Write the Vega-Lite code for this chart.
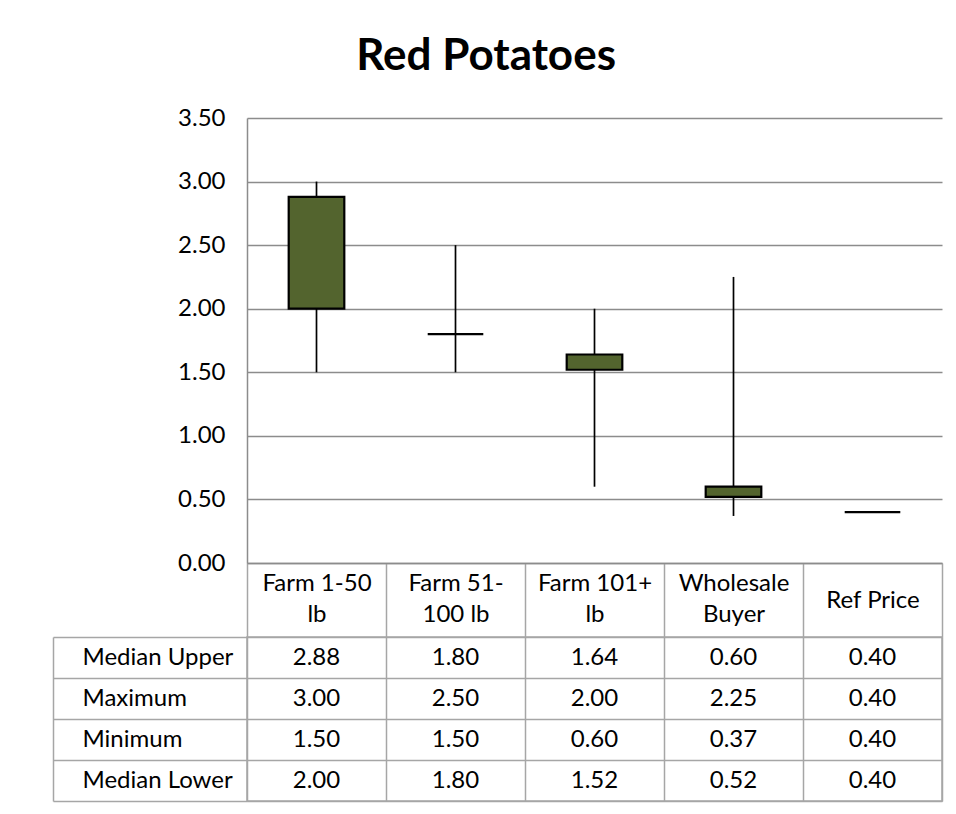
{
  "$schema": "https://vega.github.io/schema/vega-lite/v6.json",
  "padding": {"left": 51, "top": 35, "right": 14, "bottom": 8},
  "background": "white",
  "title": {"text": "Red Potatoes", "fontSize": 44, "fontWeight": "bold", "font": "Lato", "color": "black", "anchor": "middle", "dx": -11, "offset": 27},
  "config": {"font": "Lato", "view": {"stroke": null}},
  "datasets": {
    "boxes": [
      {"category": "Farm 1-50 lb", "upper": 2.88, "max": 3.00, "min": 1.50, "lower": 2.00},
      {"category": "Farm 51-100 lb", "upper": 1.80, "max": 2.50, "min": 1.50, "lower": 1.80},
      {"category": "Farm 101+ lb", "upper": 1.64, "max": 2.00, "min": 0.60, "lower": 1.52},
      {"category": "Wholesale Buyer", "upper": 0.60, "max": 2.25, "min": 0.37, "lower": 0.52},
      {"category": "Ref Price", "upper": 0.40, "max": 0.40, "min": 0.40, "lower": 0.40}
    ],
    "table": [
      {"category": "Farm 1-50 lb", "stat": "Median Upper", "value": 2.88},
      {"category": "Farm 51-100 lb", "stat": "Median Upper", "value": 1.80},
      {"category": "Farm 101+ lb", "stat": "Median Upper", "value": 1.64},
      {"category": "Wholesale Buyer", "stat": "Median Upper", "value": 0.60},
      {"category": "Ref Price", "stat": "Median Upper", "value": 0.40},
      {"category": "Farm 1-50 lb", "stat": "Maximum", "value": 3.00},
      {"category": "Farm 51-100 lb", "stat": "Maximum", "value": 2.50},
      {"category": "Farm 101+ lb", "stat": "Maximum", "value": 2.00},
      {"category": "Wholesale Buyer", "stat": "Maximum", "value": 2.25},
      {"category": "Ref Price", "stat": "Maximum", "value": 0.40},
      {"category": "Farm 1-50 lb", "stat": "Minimum", "value": 1.50},
      {"category": "Farm 51-100 lb", "stat": "Minimum", "value": 1.50},
      {"category": "Farm 101+ lb", "stat": "Minimum", "value": 0.60},
      {"category": "Wholesale Buyer", "stat": "Minimum", "value": 0.37},
      {"category": "Ref Price", "stat": "Minimum", "value": 0.40},
      {"category": "Farm 1-50 lb", "stat": "Median Lower", "value": 2.00},
      {"category": "Farm 51-100 lb", "stat": "Median Lower", "value": 1.80},
      {"category": "Farm 101+ lb", "stat": "Median Lower", "value": 1.52},
      {"category": "Wholesale Buyer", "stat": "Median Lower", "value": 0.52},
      {"category": "Ref Price", "stat": "Median Lower", "value": 0.40}
    ]
  },
  "bounds": "flush",
  "spacing": 74,
  "vconcat": [
    {
      "width": 695,
      "height": 445,
      "data": {"name": "boxes"},
      "encoding": {
        "x": {
          "field": "category", "type": "nominal", "sort": null,
          "scale": {"paddingInner": 0, "paddingOuter": 0},
          "axis": {
            "title": null, "labelAngle": 0, "domainColor": "#8c8c8c", "domainWidth": 1.5,
            "ticks": true, "tickBand": "extent", "tickExtra": true, "tickSize": 74, "tickColor": "#a6a6a6", "tickWidth": 1.5,
            "labelPadding": {"condition": {"test": "datum.value === 'Ref Price'", "value": -37}, "value": -54},
            "labelBaseline": "middle", "labelLineHeight": 31,
            "labelFontSize": 24, "labelColor": "black", "labelFont": "Lato",
            "labelExpr": "datum.value == 'Farm 1-50 lb' ? ['Farm 1-50', 'lb'] : datum.value == 'Farm 51-100 lb' ? ['Farm 51-', '100 lb'] : datum.value == 'Farm 101+ lb' ? ['Farm 101+', 'lb'] : datum.value == 'Wholesale Buyer' ? ['Wholesale', 'Buyer'] : datum.value"
          }
        }
      },
      "layer": [
        {
          "mark": {"type": "rule", "color": "black", "strokeWidth": 1.7},
          "encoding": {
            "y": {
              "field": "min", "type": "quantitative",
              "scale": {"domain": [0, 3.5], "nice": false},
              "axis": {
                "title": null, "values": [0, 0.5, 1, 1.5, 2, 2.5, 3, 3.5], "format": ".2f",
                "grid": true, "gridColor": "#8c8c8c", "gridWidth": 1.5,
                "ticks": false, "labelPadding": 22, "labelFontSize": 24, "labelColor": "black",
                "domainColor": "#8c8c8c", "domainWidth": 1.5
              }
            },
            "y2": {"field": "max"}
          }
        },
        {
          "mark": {"type": "bar", "width": {"band": 0.4}, "color": "#53642e", "stroke": "black", "strokeWidth": 2.2, "cornerRadius": 0},
          "encoding": {
            "y": {"field": "lower", "type": "quantitative"},
            "y2": {"field": "upper"}
          }
        }
      ]
    },
    {
      "width": 695,
      "height": 164,
      "data": {"name": "table"},
      "view": {"stroke": "#a6a6a6", "strokeWidth": 1.5},
      "mark": {"type": "text", "fontSize": 24, "color": "black", "font": "Lato"},
      "encoding": {
        "x": {
          "field": "category", "type": "nominal",
          "sort": ["Farm 1-50 lb", "Farm 51-100 lb", "Farm 101+ lb", "Wholesale Buyer", "Ref Price"],
          "scale": {"paddingInner": 0, "paddingOuter": 0},
          "axis": {"title": null, "labels": false, "ticks": false, "domain": false, "grid": true, "tickBand": "extent", "gridColor": "#a6a6a6", "gridWidth": 1.5}
        },
        "y": {
          "field": "stat", "type": "nominal",
          "sort": ["Median Upper", "Maximum", "Minimum", "Median Lower"],
          "scale": {"paddingInner": 0, "paddingOuter": 0},
          "axis": {
            "title": null, "offset": 194, "domain": true, "domainColor": "#a6a6a6", "domainWidth": 1.5,
            "ticks": true, "tickBand": "extent", "tickExtra": true, "tickSize": -194, "tickColor": "#a6a6a6", "tickWidth": 1.5,
            "grid": true, "gridColor": "#a6a6a6", "gridWidth": 1.5,
            "labelAlign": "left", "labelPadding": 165, "labelFontSize": 24, "labelColor": "black"
          }
        },
        "text": {"field": "value", "type": "quantitative", "format": ".2f"}
      }
    }
  ]
}
